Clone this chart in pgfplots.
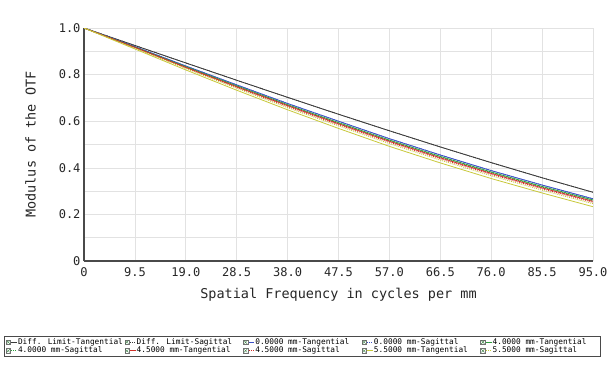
\documentclass[border=0pt]{standalone}
\usepackage{fontspec}
\setmainfont{DejaVu Sans Mono}
\usepackage{pgfplots}
\pgfplotsset{compat=1.18}
\definecolor{difc}{HTML}{3A3A3A}
\definecolor{c0}{HTML}{3A4FC8}
\definecolor{c4}{HTML}{2E9E3E}
\definecolor{c45}{HTML}{D03028}
\definecolor{c55}{HTML}{C8C83A}
\definecolor{gridc}{HTML}{E2E2E2}
\definecolor{axc}{HTML}{4A4A4A}
\begin{document}
\begin{tikzpicture}
\path[use as bounding box] (0pt,0pt) rectangle (614pt,365pt);
\begin{axis}[
  at={(84pt,104pt)}, anchor=origin,
  scale only axis, width=509pt, height=233pt,
  xmin=0, xmax=95, ymin=0, ymax=1,
  axis lines=left, axis line style={-, draw=axc, line width=1.1pt},
  xtick={0,9.5,19,28.5,38,47.5,57,66.5,76,85.5,95},
  xticklabels={0,9.5,19.0,28.5,38.0,47.5,57.0,66.5,76.0,85.5,95.0},
  ytick={0,0.2,0.4,0.6,0.8,1.0},
  yticklabels={0,0.2,0.4,0.6,0.8,1.0},
  minor ytick={0.1,0.3,0.5,0.7,0.9},
  major tick length=0pt, minor tick length=0pt,
  grid=both,
  major grid style={draw=gridc, line width=0.6pt},
  minor grid style={draw=gridc, line width=0.6pt},
  tick label style={font=\fontsize{12}{14}\selectfont, text=black!85},
  xticklabel shift=3pt,
  xlabel={Spatial Frequency in cycles per mm},
  ylabel={Modulus of the OTF},
  label style={font=\fontsize{13.5}{16}\selectfont, text=black!85},
  xlabel style={at={(rel axis cs:0.5,-0.159)}, anchor=base},
  ylabel style={at={(rel axis cs:-0.105,0.5)}, anchor=center},
  legend columns=5,
  legend cell align=left,
  legend image code/.code={
    \draw[solid, draw=black!55, fill=white, line width=0.4pt] (0pt,-2.2pt) rectangle (4.4pt,2.2pt);
    \draw[solid, draw=c4!70!black, line width=0.3pt] (0.6pt,-1.6pt) -- (3.8pt,1.6pt) (0.6pt,1.6pt) -- (3.8pt,-1.6pt);
    \draw[#1, line width=0.9pt] (5.4pt,0pt) -- (11pt,0pt);
  },
  legend style={
    at={(rel axis cs:-0.1572,-0.412)}, anchor=south west,
    draw=axc, line width=0.8pt, inner sep=1.5pt,
    font=\fontsize{7.8}{9}\selectfont,
    nodes={inner sep=0.5pt, text height=6pt, text depth=1.6pt},
    column sep=0pt,
  },
  every axis plot/.append style={line width=0.8pt},
]
\addplot[difc, mark=none] coordinates {(0,1) (9.5,0.9249) (19,0.8501) (28.5,0.7758) (38,0.7023) (47.5,0.6299) (57,0.5589) (66.5,0.4895) (76,0.4222) (85.5,0.3572) (95,0.2950)};
\addlegendentry{\makebox[106pt][l]{Diff. Limit-Tangential}}
\addplot[difc, mark=none, dash pattern=on 1pt off 1pt] coordinates {(0,1) (9.5,0.9249) (19,0.8501) (28.5,0.7758) (38,0.7023) (47.5,0.6299) (57,0.5589) (66.5,0.4895) (76,0.4222) (85.5,0.3572) (95,0.2950)};
\addlegendentry{\makebox[106pt][l]{Diff. Limit-Sagittal}}
\addplot[c0, mark=none] coordinates {(0,1) (9.5,0.920) (19,0.837) (28.5,0.756) (38,0.676) (47.5,0.600) (57,0.525) (66.5,0.455) (76,0.388) (85.5,0.326) (95,0.267)};
\addlegendentry{\makebox[106pt][l]{0.0000 mm-Tangential}}
\addplot[c0, mark=none, dash pattern=on 1pt off 1pt] coordinates {(0,1) (9.5,0.920) (19,0.837) (28.5,0.756) (38,0.676) (47.5,0.600) (57,0.525) (66.5,0.455) (76,0.388) (85.5,0.326) (95,0.267)};
\addlegendentry{\makebox[106pt][l]{0.0000 mm-Sagittal}}
\addplot[c4, mark=none] coordinates {(0,1) (9.5,0.918) (19,0.834) (28.5,0.752) (38,0.671) (47.5,0.594) (57,0.519) (66.5,0.449) (76,0.382) (85.5,0.320) (95,0.262)};
\addlegendentry{\makebox[106pt][l]{4.0000 mm-Tangential}}
\addplot[c4, mark=none, dash pattern=on 1pt off 1pt] coordinates {(0,1) (9.5,0.917) (19,0.832) (28.5,0.749) (38,0.668) (47.5,0.591) (57,0.516) (66.5,0.446) (76,0.379) (85.5,0.317) (95,0.259)};
\addlegendentry{\makebox[106pt][l]{4.0000 mm-Sagittal}}
\addplot[c45, mark=none] coordinates {(0,1) (9.5,0.917) (19,0.831) (28.5,0.748) (38,0.667) (47.5,0.589) (57,0.514) (66.5,0.443) (76,0.376) (85.5,0.314) (95,0.256)};
\addlegendentry{\makebox[106pt][l]{4.5000 mm-Tangential}}
\addplot[c45, mark=none, dash pattern=on 1pt off 1pt] coordinates {(0,1) (9.5,0.915) (19,0.829) (28.5,0.745) (38,0.663) (47.5,0.585) (57,0.510) (66.5,0.439) (76,0.372) (85.5,0.310) (95,0.252)};
\addlegendentry{\makebox[106pt][l]{4.5000 mm-Sagittal}}
\addplot[c55, mark=none] coordinates {(0,1) (9.5,0.910) (19,0.820) (28.5,0.733) (38,0.649) (47.5,0.569) (57,0.492) (66.5,0.421) (76,0.354) (85.5,0.292) (95,0.233)};
\addlegendentry{\makebox[106pt][l]{5.5000 mm-Tangential}}
\addplot[c55, mark=none, dash pattern=on 1pt off 1pt] coordinates {(0,1) (9.5,0.913) (19,0.826) (28.5,0.741) (38,0.658) (47.5,0.580) (57,0.504) (66.5,0.433) (76,0.366) (85.5,0.304) (95,0.246)};
\addlegendentry{\makebox[106pt][l]{5.5000 mm-Sagittal}}
\end{axis}
\end{tikzpicture}
\end{document}
